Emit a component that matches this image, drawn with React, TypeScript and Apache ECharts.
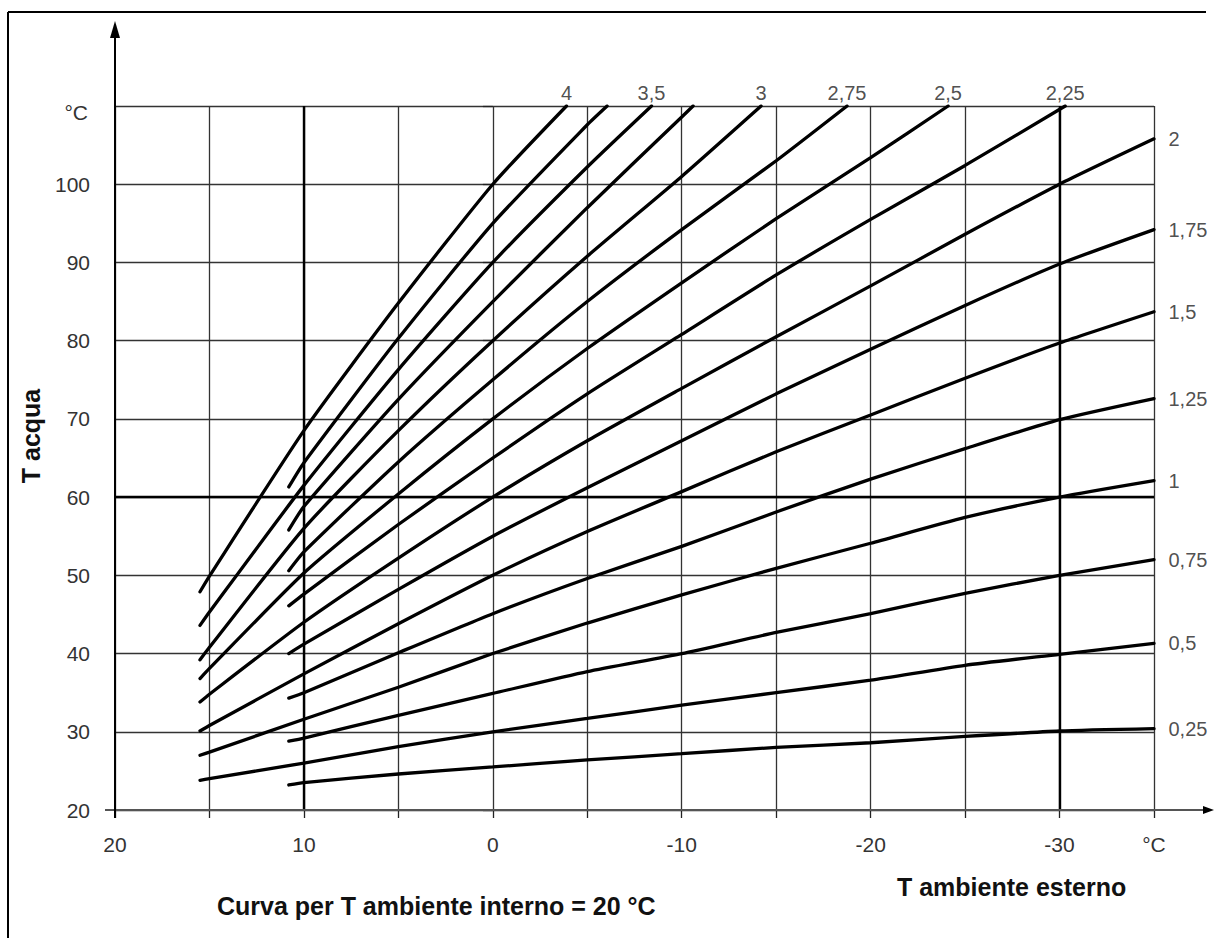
import React, { useEffect, useRef } from "react";
import * as echarts from "echarts";

// Axis ranges / ticks
const xMin = -35;
const xMax = 20;
const xStep = 5;
const yMin = 20;
const yMax = 110;
const yStep = 10;
const xLabeled = [20, 10, 0, -10, -20, -30];
const boldX = [10, -30];
const boldY = [60];

// Heating curves: [outside temperature, water temperature]
const c025 = [[10.8, 23.2], [10, 23.5], [5, 24.6], [0, 25.5], [-5, 26.4], [-10, 27.2], [-15, 28.0], [-20, 28.6], [-25, 29.4], [-30, 30.1], [-35, 30.4]];
const c05 = [[15.5, 23.8], [15, 24.0], [10, 26.0], [5, 28.1], [0, 30.0], [-5, 31.7], [-10, 33.4], [-15, 35.0], [-20, 36.6], [-25, 38.5], [-30, 39.9], [-35, 41.3]];
const c075 = [[10.8, 28.8], [10, 29.2], [5, 32.1], [0, 34.9], [-5, 37.7], [-10, 40.0], [-15, 42.7], [-20, 45.1], [-25, 47.7], [-30, 50.0], [-35, 52.0]];
const c1 = [[15.5, 27.0], [15, 27.4], [10, 31.6], [5, 35.7], [0, 40.0], [-5, 43.9], [-10, 47.5], [-15, 50.9], [-20, 54.1], [-25, 57.4], [-30, 60.0], [-35, 62.1]];
const c125 = [[10.8, 34.3], [10, 35.0], [5, 40.1], [0, 45.1], [-5, 49.6], [-10, 53.7], [-15, 58.1], [-20, 62.3], [-25, 66.2], [-30, 69.9], [-35, 72.6]];
const c15 = [[15.5, 30.1], [15, 30.8], [10, 37.4], [5, 43.8], [0, 50.0], [-5, 55.6], [-10, 60.7], [-15, 65.8], [-20, 70.5], [-25, 75.2], [-30, 79.7], [-35, 83.7]];
const c175 = [[10.8, 40.0], [10, 41.2], [5, 48.2], [0, 55.0], [-5, 61.2], [-10, 67.2], [-15, 73.2], [-20, 78.9], [-25, 84.5], [-30, 89.8], [-35, 94.2]];
const c2 = [[15.5, 33.8], [15, 34.8], [10, 44.0], [5, 52.2], [0, 60.0], [-5, 67.2], [-10, 73.9], [-15, 80.5], [-20, 87.0], [-25, 93.6], [-30, 100.0], [-35, 105.8]];
const c225 = [[10.8, 46.1], [10, 47.6], [5, 56.5], [0, 65.0], [-5, 73.2], [-10, 80.8], [-15, 88.4], [-20, 95.5], [-25, 102.4], [-30.3, 110]];
const c25 = [[15.5, 36.8], [15, 38.1], [10, 50.3], [5, 60.4], [0, 70.0], [-5, 79.0], [-10, 87.4], [-15, 95.6], [-20, 103.4], [-24.1, 110]];
const c275 = [[10.8, 50.6], [10, 53.0], [5, 64.5], [0, 75.0], [-5, 85.0], [-10, 94.2], [-15, 103.0], [-18.75, 110]];
const c3 = [[15.5, 39.2], [15, 40.8], [10, 56.0], [5, 68.5], [0, 80.0], [-5, 90.8], [-10, 101.0], [-14.2, 110]];
const c325 = [[10.8, 55.8], [10, 58.8], [5, 72.5], [0, 85.0], [-5, 97.0], [-10, 108.6], [-10.6, 110]];
const c35 = [[15.5, 43.6], [15, 45.3], [10, 61.5], [5, 76.3], [0, 90.0], [-5, 102.2], [-8.4, 110]];
const c375 = [[10.8, 61.3], [10, 64.4], [5, 80.3], [0, 95.0], [-5, 107.6], [-6.05, 110]];
const c4 = [[15.5, 47.9], [15, 49.9], [10, 68.5], [5, 84.8], [0, 100.0], [-3.9, 110]];

const curveData = [c025, c05, c075, c1, c125, c15, c175, c2, c225, c25, c275, c3, c325, c35, c375, c4];
const curveNames = ["0,25", "0,5", "0,75", "1", "1,25", "1,5", "1,75", "2", "2,25", "2,5", "2,75", "3", "3,25", "3,5", "3,75", "4"];
const curveLabelPos = ["right", "right", "right", "right", "right", "right", "right", "right", "top", "top", "top", "top", "", "top", "", "top"];

const FONT = "'Liberation Sans', Arial, sans-serif";

export default function App() {
  const ref = useRef<HTMLDivElement>(null);

  useEffect(() => {
    if (!ref.current) return;
    const chart = echarts.init(ref.current, null, { renderer: "svg" });

    const curveSeries = curveData.map((d, i) => ({
      type: "line",
      name: curveNames[i],
      data: d,
      symbol: "none",
      showSymbol: false,
      smooth: 0.2,
      silent: true,
      z: 3,
      lineStyle: { color: "#000", width: 3.3, cap: "round" },
    }));

    const labelData = curveData
      .map((d, i) => ({ d, i }))
      .filter(({ i }) => curveLabelPos[i] !== "")
      .map(({ d, i }) => ({
        value: d[d.length - 1],
        label: {
          show: true,
          formatter: curveNames[i],
          position: curveLabelPos[i],
          distance: curveLabelPos[i] === "top" ? 3 : 14,
        },
      }));

    const option: any = {
      animation: false,
      backgroundColor: "#fff",
      grid: { left: 115, right: 60, top: 106, bottom: 128, containLabel: false },
      xAxis: {
        type: "value",
        inverse: true,
        min: xMin,
        max: xMax,
        interval: xStep,
        axisLine: { show: false },
        axisTick: { show: true, length: 8, lineStyle: { color: "#222", width: 1.3 } },
        splitLine: { show: true, lineStyle: { color: "#333", width: 1.3 } },
        axisLabel: {
          margin: 24,
          fontSize: 21,
          fontFamily: FONT,
          color: "#333",
          formatter: (v: number) => (v === xMin ? "°C" : xLabeled.includes(v) ? String(v) : ""),
        },
      },
      yAxis: {
        type: "value",
        min: yMin,
        max: yMax,
        interval: yStep,
        axisLine: { show: false },
        axisTick: { show: true, length: 10, lineStyle: { color: "#222", width: 1.3 } },
        splitLine: { show: true, lineStyle: { color: "#333", width: 1.3 } },
        axisLabel: {
          margin: 25,
          fontSize: 21,
          fontFamily: FONT,
          color: "#333",
          formatter: (v: number) => (v === yMax ? "" : String(v)),
        },
      },
      series: [
        {
          type: "line",
          data: [],
          silent: true,
          z: 2,
          markLine: {
            silent: true,
            symbol: "none",
            label: { show: false },
            lineStyle: { color: "#000", width: 2.4, type: "solid" },
            data: [...boldX.map((v) => ({ xAxis: v })), ...boldY.map((v) => ({ yAxis: v }))],
          },
        },
        ...curveSeries,
        {
          type: "scatter",
          data: labelData,
          symbolSize: 1,
          silent: true,
          z: 5,
          itemStyle: { color: "rgba(0,0,0,0)" },
          label: { show: true, fontSize: 20, fontFamily: FONT, color: "#222" },
        },
      ],
    };

    chart.setOption(option);

    const p0 = chart.convertToPixel({ gridIndex: 0 }, [xMax, yMin]) as number[];
    const p1 = chart.convertToPixel({ gridIndex: 0 }, [xMin, yMax]) as number[];
    const x0 = p0[0];
    const y0 = p0[1];
    const yTop = p1[1];

    chart.setOption({
      graphic: [
        // frame
        { type: "line", z: 100, shape: { x1: 8, y1: 12, x2: 1206, y2: 12 }, style: { stroke: "#000", lineWidth: 2 } },
        { type: "line", z: 100, shape: { x1: 8, y1: 12, x2: 8, y2: 938 }, style: { stroke: "#000", lineWidth: 2 } },
        // x axis with arrow
        { type: "line", z: 100, shape: { x1: x0 - 10, y1: y0, x2: 1206, y2: y0 }, style: { stroke: "#555", lineWidth: 2 } },
        { type: "polygon", z: 100, shape: { points: [[1214, y0], [1203, y0 - 4], [1203, y0 + 4]] }, style: { fill: "#000" } },
        // y axis with arrow
        { type: "line", z: 100, shape: { x1: x0, y1: y0 + 8, x2: x0, y2: 34 }, style: { stroke: "#000", lineWidth: 2 } },
        { type: "polygon", z: 100, shape: { points: [[x0, 21], [x0 - 5, 38], [x0 + 5, 38]] }, style: { fill: "#000" } },
        // y unit label
        {
          type: "text",
          z: 100,
          x: x0 - 27,
          y: yTop + 6,
          style: { text: "°C", fontSize: 21, fontFamily: FONT, fill: "#333", align: "right", verticalAlign: "middle" },
        },
        // titles
        {
          type: "text",
          z: 100,
          x: 31,
          y: 436,
          rotation: Math.PI / 2,
          style: { text: "T acqua", fontSize: 25, fontWeight: "bold", fontFamily: FONT, fill: "#111", align: "center", verticalAlign: "middle" },
        },
        {
          type: "text",
          z: 100,
          x: 897,
          y: 887,
          style: { text: "T ambiente esterno", fontSize: 25, fontWeight: "bold", fontFamily: FONT, fill: "#111", align: "left", verticalAlign: "middle" },
        },
        {
          type: "text",
          z: 100,
          x: 217,
          y: 906,
          style: { text: "Curva per T ambiente interno = 20 °C", fontSize: 25, fontWeight: "bold", fontFamily: FONT, fill: "#111", align: "left", verticalAlign: "middle" },
        },
      ],
    });

    return () => chart.dispose();
  }, []);

  return (
    <div
      ref={ref}
      style={{ position: "fixed", left: 0, top: 0, width: 1214, height: 938, background: "#fff" }}
    />
  );
}
